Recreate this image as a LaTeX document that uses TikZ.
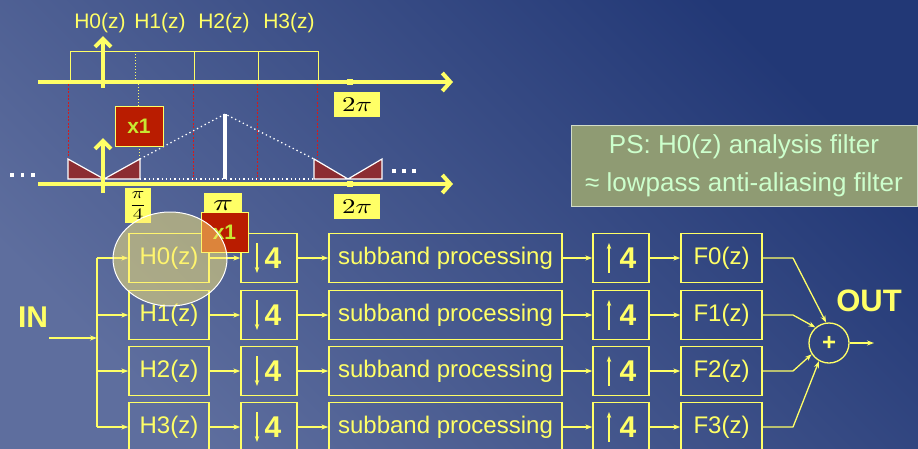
\documentclass[tikz,border=0pt]{standalone}
\usepackage{fontspec}
\setmainfont{Liberation Sans}
\usetikzlibrary{arrows.meta,calc,shapes.geometric}
\definecolor{yel}{RGB}{255,255,102}
\definecolor{bglight}{RGB}{94,110,158}
\definecolor{bgdark}{RGB}{34,56,118}
\definecolor{boxred}{RGB}{185,28,0}
\definecolor{xonetext}{RGB}{200,232,50}
\definecolor{trired}{RGB}{140,45,50}
\definecolor{psfill}{RGB}{143,155,115}
\definecolor{pstext}{RGB}{204,255,204}
\definecolor{ellfill}{RGB}{255,236,118}
\definecolor{psborder}{RGB}{210,220,200}
\definecolor{guidered}{RGB}{215,25,25}
\tikzset{
  axisline/.style={draw=yel, line width=4pt, -{Straight Barb[length=8pt,width=18pt]}},
  vaxis/.style={draw=yel, line width=4pt, -{Straight Barb[length=8pt,width=16pt]}},
  blk/.style={draw=yel, line width=1.3pt, minimum height=49pt, inner sep=0pt, text=yel, font=\fontsize{24}{28}\selectfont},
  conn/.style={draw=yel, line width=1.3pt, -{Stealth[length=7pt,width=5pt]}},
  bigfour/.style={text=yel, inner sep=0pt, font=\fontsize{30}{32}\selectfont\bfseries},
  lblbox/.style={fill=yel, inner sep=0pt, text=black},
  xonebox/.style={fill=boxred, draw=yel, line width=1pt, text=xonetext, inner sep=0pt, font=\fontsize{21}{24}\selectfont\bfseries},
  hlabel/.style={text=yel, inner sep=0pt, font=\fontsize{21}{24}\selectfont},
  reddash/.style={draw=guidered, line width=1pt, dash pattern=on 2pt off 1.5pt},
  wdots/.style={draw=white, line width=1.3pt, dash pattern=on 1.3pt off 3pt},
  tri/.style={fill=trired, draw=white, line width=1.2pt, line join=miter},
  dotsq/.style={fill=white},
}
\begin{document}
\begin{tikzpicture}[x=1pt,y=-1pt]
\useasboundingbox (0,0) rectangle (918,448);
\shade[shading=axis, top color=bgdark, bottom color=bglight, shading angle=-45] (0,0) rectangle (918,448);

% ---------- spectrum sketch ----------
\draw[yel, line width=1pt] (70,51) rectangle (318,81);
\draw[yel, line width=1pt] (194,51) -- (194,81);
\draw[yel, line width=1pt] (258,51) -- (258,81);
\draw[yel, line width=1pt, dotted] (135,51) -- (135,81);
\node[hlabel] (lh0) at (100,23) {H0(z)};
\node[hlabel] (lh1) at (160,23) {H1(z)};
\node[hlabel] (lh2) at (224,23) {H2(z)};
\node[hlabel] (lh3) at (289,23) {H3(z)};

\draw[reddash] (68,84) -- (68,159);
\draw[reddash] (193,84) -- (193,179);
\draw[reddash] (257,84) -- (257,179);
\draw[reddash] (317,84) -- (317,159);
\draw[yel, line width=1pt, dotted] (138,84) -- (138,106);
\draw[yel, line width=1pt, dotted] (139,146) -- (139,159);

\draw[wdots] (140,179) -- (314,179);
\draw[wdots] (140,159) -- (225,114) -- (314,159);
\draw[white, line width=3.5pt] (225,114) -- (225,179);
\draw[tri] (68,159) -- (104,179) -- (140,159) -- (140,179) -- (68,179) -- cycle;
\draw[tri] (314,159) -- (348,179) -- (382,159) -- (382,179) -- (314,179) -- cycle;

\foreach \x in {10,20.5,31} \fill[dotsq] (\x,173) rectangle ++(3.5,3.5);
\foreach \x in {392,402,412} \fill[dotsq] (\x,169) rectangle ++(3.5,3.5);

\draw[axisline] (38,82) -- (453,82);
\draw[axisline] (38,184) -- (453,184);
\draw[vaxis] (103,88) -- (103,36);
\draw[vaxis] (103,193) -- (103,138);
\fill[yel] (103,82) circle (3pt);
\fill[yel] (347,79) rectangle (353,85);
\fill[yel] (347,181) rectangle (353,187);

\node[lblbox, minimum width=46pt, minimum height=25pt] (tp1) at (357,104.5) {\scalebox{2.7}[2.1]{$2\pi$}};
\node[lblbox, minimum width=46pt, minimum height=25pt] (tp2) at (357,206.5) {\scalebox{2.7}[2.1]{$2\pi$}};
\node[lblbox, minimum width=26pt, minimum height=35pt] (pq) at (138,205.5) {\scalebox{2.1}[1.6]{$\displaystyle\frac{\pi}{4}$}};
\node[lblbox, minimum width=38pt, minimum height=24pt, anchor=north] (pi) at (223,193) {\scalebox{3.3}[2.3]{$\pi$}};
\node[xonebox, minimum width=48pt, minimum height=40pt] (xa) at (139,126) {x1};

% ---------- filter bank ----------
\foreach \i/\y in {0/258,1/315,2/371,3/427}{
  \node[blk, minimum width=80pt] (h\i) at (169,\y) {H\i(z)};
  \node[blk, minimum width=56pt] (d\i) at (269,\y) {};
  \node[bigfour] (dn\i) at (273,\y) {4};
  \node[blk, minimum width=233pt] (s\i) at (445.5,\y) {subband processing};
  \node[blk, minimum width=56pt] (u\i) at (621,\y) {};
  \node[bigfour] (un\i) at (628,\y) {4};
  \node[blk, minimum width=81pt] (f\i) at (721.5,\y) {F\i(z)};
  \draw[draw=yel, line width=1.3pt, -{Stealth[length=6pt,width=4.5pt]}] ($(d\i.center)+(-12,-15)$) coordinate (da\i) -- ++(0,30);
  \draw[draw=yel, line width=1.3pt, -{Stealth[length=6pt,width=4.5pt]}] ($(u\i.center)+(-12,15)$) coordinate (ua\i) -- ++(0,-30);
  \coordinate (b\i) at (97,\y);
  \coordinate (k\i) at (793,\y);
  \draw[conn] (b\i) -- (h\i.west);
  \draw[conn] (h\i.east) -- (d\i.west);
  \draw[conn] (d\i.east) -- (s\i.west);
  \draw[conn] (s\i.east) -- (u\i.west);
  \draw[conn] (u\i.east) -- (f\i.west);
}
\node[text=yel, inner sep=0pt, font=\fontsize{30}{32}\selectfont\bfseries] (in) at (33,317) {IN};
\coordinate (ins) at (49,338);
\coordinate (bus) at (97,338);
\draw[conn] (ins) -- (bus);
\draw[yel, line width=1.3pt] (b0) -- (b3);

\node[draw=yel, line width=1.3pt, circle, minimum size=40pt, inner sep=0pt, text=yel, font=\fontsize{24}{26}\selectfont\bfseries] (sum) at (829,343) {+};
\node[text=yel, inner sep=0pt, font=\fontsize{31}{33}\selectfont\bfseries] (out) at (869,301) {OUT};
\coordinate (outend) at (874,343);
\draw[conn] (sum.east) -- (outend);
\draw[conn, line join=round] (f0.east) -- (k0) -- (sum.98);
\draw[conn, line join=round] (f1.east) -- (k1) -- (sum.131);
\draw[conn, line join=round] (f2.east) -- (k2) -- (sum.213);
\draw[conn, line join=round] (f3.east) -- (k3) -- (sum.241);

\node[xonebox, minimum width=47pt, minimum height=40pt] (xb) at (224.5,232) {x1};
\node[ellipse, draw=white, line width=1pt, fill=ellfill, fill opacity=0.5, minimum width=114pt, minimum height=94pt, inner sep=0pt] (ell) at (170,259) {};

\node[fill=psfill, draw=psborder, line width=1pt, minimum width=346pt, minimum height=81pt, inner sep=0pt, text=pstext, align=center, font=\fontsize{26}{38}\selectfont] (ps) at (744,165.5) {PS: H0(z) analysis filter\\≈ lowpass anti-aliasing filter};
\end{tikzpicture}
\end{document}
